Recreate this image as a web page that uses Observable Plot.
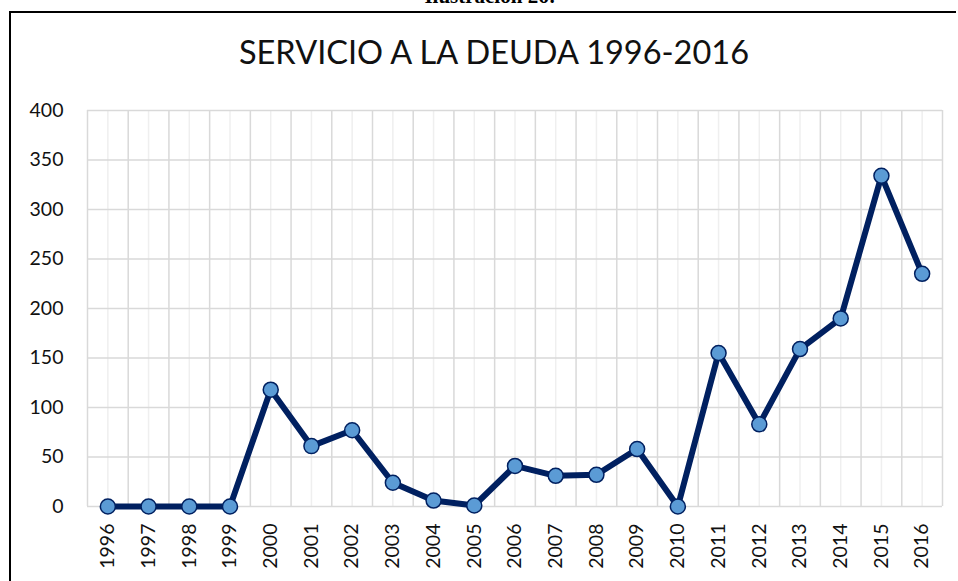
<!DOCTYPE html>
<html>
<head>
<meta charset="utf-8">
<script src="https://cdn.jsdelivr.net/npm/d3@7"></script>
<script src="https://cdn.jsdelivr.net/npm/@observablehq/plot@0.6"></script>
<style>
  html, body { margin: 0; padding: 0; background: #fff; overflow: hidden; }
  #wrap { position: relative; width: 958px; height: 581px; }
  #caption { position: absolute; left: 0; width: 980px; top: -14px; text-align: center;
    font: bold 21px "Liberation Serif", "DejaVu Serif", serif; line-height: 21px; color: #000; }
  #box { position: absolute; left: 9px; top: 11px; width: 945px; height: 600px;
    border-top: 2px solid #000; border-left: 2px solid #000; }
  #title { position: absolute; left: 0; width: 988px; top: 32px; text-align: center;
    font: 32.5px Lato, "Open Sans", sans-serif; color: #111; }
  #chart { position: absolute; left: 0; top: 0; }
</style>
</head>
<body>
<div id="wrap">
  <div id="caption">Ilustración 26:</div>
  <div id="box"></div>
  <div id="chart"></div>
  <div id="title">SERVICIO A LA DEUDA 1996-2016</div>
</div>
<script>
const years = [1996,1997,1998,1999,2000,2001,2002,2003,2004,2005,2006,2007,2008,2009,2010,2011,2012,2013,2014,2015,2016];
const values = [0,0,0,0,118,61,77,24,6,1,41,31,32,58,0,155,83,159,190,334,235];
const yTicks = [0,50,100,150,200,250,300,350,400];

const data = years.map((y, i) => ({year: y, value: values[i]}));
const bounds = [years[0] - 0.5, ...years.map(y => y + 0.5)];

const chart = Plot.plot({
  width: 958,
  height: 581,
  marginLeft: 87,
  marginRight: 16,
  marginTop: 110,
  marginBottom: 75,
  style: {background: "transparent", overflow: "visible"},
  x: {domain: [years[0] - 0.5, years[years.length - 1] + 0.5], label: null},
  y: {domain: [0, 400], label: null},
  marks: [
    Plot.ruleX(years, {x: d => d, stroke: "#efefef", strokeWidth: 1.5}),
    Plot.ruleX(bounds, {x: d => d, stroke: "#d9d9d9", strokeWidth: 1.5}),
    Plot.ruleY(yTicks, {y: d => d, stroke: "#d9d9d9", strokeWidth: 1.5}),
    Plot.axisY({ticks: yTicks, tickSize: 0, tickPadding: 24, tickFormat: d => String(d), label: null,
      fontSize: 19.5, fill: "#111", fontFamily: "Lato, 'Open Sans', sans-serif"}),
    Plot.axisX({ticks: years, tickSize: 0, tickPadding: 17, tickRotate: -90, tickFormat: d => String(d), label: null,
      fontSize: 19.5, fill: "#111", fontFamily: "Lato, 'Open Sans', sans-serif", textAnchor: "end"}),
    Plot.line(data, {x: "year", y: "value", stroke: "#002060", strokeWidth: 6, strokeLinejoin: "miter"}),
    Plot.dot(data, {x: "year", y: "value", r: 7.5, fill: "#5B9BD5", stroke: "#002060", strokeWidth: 1.5})
  ]
});
document.getElementById("chart").appendChild(chart);
</script>
</body>
</html>
